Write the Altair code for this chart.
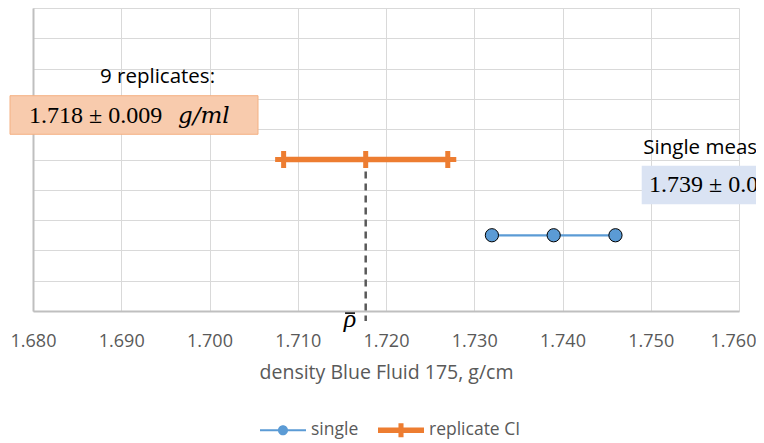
import altair as alt
import pandas as pd

# ---------------- data ----------------
x_ticks = [1.680, 1.690, 1.700, 1.710, 1.720, 1.730, 1.740, 1.750, 1.760]
y_grid = [0, 1, 2, 3, 4, 5, 6, 7, 8, 9, 10]

single_x = [1.732, 1.739, 1.746]
single_y = [2.5, 2.5, 2.5]

rep_x = [1.7084, 1.7177, 1.7270]
rep_y = [5, 5, 5]

rho_bar_x = [1.7177]
rho_line_top = [5]
rho_line_bottom = [-0.33]

legend_series = ["single", "replicate CI"]

# annotation content (placed in data units)
rep_box = dict(x=[1.677394], x2=[1.705496], y=[7.106], y2=[5.832])
single_box = dict(x=[1.748975], x2=[1.7655], y=[4.795], y2=[3.521])
label_x = [1.687592, 1.749156]
label_y = [7.515, 5.172]
label_text = ["9 replicates:", "Single measurement:"]
value_x = [1.679547, 1.749802]
value_y = [6.195, 3.937]
value_text = ["1.718 \u00b1 0.009", "1.739 \u00b1 0.007"]
unit_x = [1.696431, 1.766686]
unit_text = ["g/ml", "g/ml"]
rho_label_x = [1.71592]
rho_label_y = [-0.528]
rho_label = ["\u03c1"]
overbar = dict(x=[1.71536], x2=[1.71649], y=[-0.07])

# ---------------- styles ----------------
BLUE = "#5B9BD5"
ORANGE = "#ED7D31"
GRID = "#D9D9D9"
AXIS = "#BFBFBF"
TXT = "#595959"

XS = alt.Scale(domain=[1.68, 1.76], nice=False, zero=False)
YS = alt.Scale(domain=[0, 10], nice=False, zero=True)

xaxis = alt.Axis(values=x_ticks, format=".3f", grid=True, gridColor=GRID, gridWidth=1,
                 domainColor=AXIS, domainWidth=2, ticks=False, tickSize=0,
                 labelFont="Open Sans", labelFontSize=18, labelColor=TXT, labelPadding=21,
                 labelFlush=False, labelOverlap=False,
                 labelOffset={"condition": {"test": "datum.value > 1.759", "value": -6}, "value": 0},
                 title="density Blue Fluid 175, g/cm", titleFont="Open Sans", titleFontSize=19.5,
                 titleFontWeight="normal", titleColor=TXT, titlePadding=13)
yaxis = alt.Axis(values=y_grid, grid=True, gridColor=GRID, gridWidth=1,
                 domainColor=AXIS, domainWidth=2, ticks=False, tickSize=0, labels=False, title=None)


def X(f="x"):
    return alt.X(f"{f}:Q", scale=XS, axis=xaxis)


def Y(f="y"):
    return alt.Y(f"{f}:Q", scale=YS, axis=yaxis)


rep_box_l = alt.Chart(pd.DataFrame(rep_box)).mark_rect(
    fill="#F8CBAD", stroke="#F4B183", strokeWidth=1).encode(
    x=X(), x2="x2:Q", y=Y(), y2="y2:Q")
single_box_l = alt.Chart(pd.DataFrame(single_box)).mark_rect(
    fill="#DAE3F3").encode(x=X(), x2="x2:Q", y=Y(), y2="y2:Q")

labels_l = alt.Chart(pd.DataFrame({"x": label_x, "y": label_y, "t": label_text})).mark_text(
    align="left", baseline="alphabetic", font="Open Sans", fontSize=20.5, color="#000000").encode(
    x=X(), y=Y(), text="t:N")
values_l = alt.Chart(pd.DataFrame({"x": value_x, "y": value_y, "t": value_text})).mark_text(
    align="left", baseline="alphabetic", font="Liberation Serif", fontSize=24, color="#000000").encode(
    x=X(), y=Y(), text="t:N")
units_l = alt.Chart(pd.DataFrame({"x": unit_x, "y": value_y, "t": unit_text})).mark_text(
    align="left", baseline="alphabetic", font="DejaVu Serif", fontStyle="italic", fontSize=23,
    color="#000000").encode(x=X(), y=Y(), text="t:N")
rho_l = alt.Chart(pd.DataFrame({"x": rho_label_x, "y": rho_label_y, "t": rho_label})).mark_text(
    align="center", baseline="alphabetic", font="Liberation Serif", fontStyle="italic", fontSize=26,
    color="#000000").encode(x=X(), y=Y(), text="t:N")
overbar_l = alt.Chart(pd.DataFrame(overbar)).mark_rule(color="#000000", strokeWidth=1.5).encode(
    x=X(), x2="x2:Q", y=Y())

dash_l = alt.Chart(pd.DataFrame({"x": rho_bar_x, "y": rho_line_top, "y2": rho_line_bottom})).mark_rule(
    strokeDash=[7, 5], strokeWidth=2.5, color="#595959").encode(x=X(), y=Y(), y2="y2:Q")

rep_df = pd.DataFrame({"x": rep_x, "y": rep_y})
rep_line = alt.Chart(rep_df).mark_line(color=ORANGE, strokeWidth=5.5).encode(x=X(), y=Y())
rep_pts = alt.Chart(rep_df).mark_point(shape="M-1,0H1M0,-1V1", size=289, strokeWidth=5,
                                       color=ORANGE, filled=False, opacity=1).encode(x=X(), y=Y())

single_df = pd.DataFrame({"x": single_x, "y": single_y})
single_line = alt.Chart(single_df).mark_line(color=BLUE, strokeWidth=2.25).encode(x=X(), y=Y())
single_pts = alt.Chart(single_df).mark_point(filled=True, fill=BLUE, stroke="#000000", strokeWidth=1,
                                             size=175, opacity=1).encode(x=X(), y=Y())

sym_single = "M-1,-0.045H1V0.045H-1Z M0.22,0A0.22,0.22 0 1,1 -0.22,0A0.22,0.22 0 1,1 0.22,0Z"
sym_rep = "M-1,-0.115H1V0.115H-1Z M-0.11,-0.3H0.11V0.3H-0.11Z"
leg = alt.Legend(title=None, orient="none", legendX=227, legendY=399, direction="horizontal",
                 symbolSize=2116, symbolStrokeWidth=0, symbolOpacity=1,
                 labelFont="Open Sans", labelFontSize=17.5, labelColor=TXT, labelOffset=5,
                 columnPadding=19, padding=0)
legend_l = alt.Chart(pd.DataFrame({"series": legend_series})).mark_point(
    filled=True, opacity=0, size=2116).encode(
    color=alt.Color("series:N", scale=alt.Scale(domain=legend_series, range=[BLUE, ORANGE]), legend=leg),
    shape=alt.Shape("series:N", scale=alt.Scale(domain=legend_series, range=[sym_single, sym_rep]),
                    legend=leg),
)

chart = alt.layer(
    rep_box_l, single_box_l, labels_l, values_l, units_l, rho_l, overbar_l, dash_l,
    rep_line, rep_pts, single_line, single_pts, legend_l
).properties(
    width=706, height=303,
    padding={"left": 25, "top": 0, "right": 17, "bottom": 132},
    autosize=alt.AutoSizeParams(type="none"),
).configure_view(stroke=None)

chart.save("out.html", embed_options={"renderer": "svg", "actions": False})
